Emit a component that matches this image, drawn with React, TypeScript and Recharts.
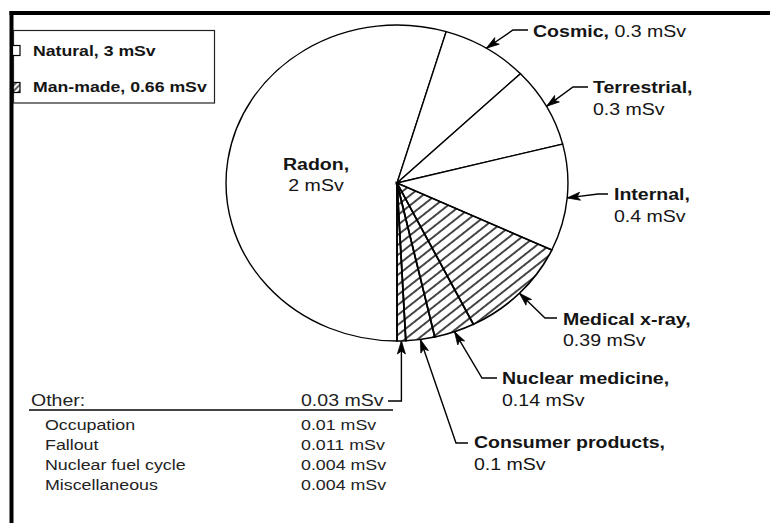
import React from 'react';
import { PieChart, Pie, Cell } from 'recharts';

// ---- data ----
const sources = ['Radon', 'Cosmic', 'Terrestrial', 'Internal', 'Medical x-ray', 'Nuclear medicine', 'Consumer products', 'Other'];
const doses = [2, 0.3, 0.3, 0.4, 0.39, 0.14, 0.1, 0.03];
const groups = ['Natural', 'Natural', 'Natural', 'Natural', 'Man-made', 'Man-made', 'Man-made', 'Man-made'];
const legendLabels = ['Natural, 3 mSv', 'Man-made, 0.66 mSv'];
const otherTitle = 'Other:';
const otherItems = ['Occupation', 'Fallout', 'Nuclear fuel cycle', 'Miscellaneous'];
const otherDoses = [0.01, 0.011, 0.004, 0.004];
const otherTotal = 0.03;

const data = sources.map((name, i) => ({ name, value: doses[i], group: groups[i] }));

// ---- layout / style ----
const W = 770;
const H = 523;
const CX = 397;
const CY = 183;
const R = 158;
const ELL = 1.082; // horizontal stretch of the pie
const FONT = '"Liberation Sans", Arial, Helvetica, sans-serif';
const SX = 1.15;
const INK = '#151515';

type Leader = { elbow: [number, number]; end: [number, number]; tx: number; ty: number[]; oneLine?: boolean };
const LEADERS: Record<string, Leader> = {
  Cosmic: { elbow: [513, 30], end: [528, 30], tx: 533, ty: [37], oneLine: true },
  Terrestrial: { elbow: [573, 87], end: [588, 87], tx: 593, ty: [93, 115] },
  Internal: { elbow: [598, 194], end: [608, 194], tx: 614, ty: [200, 222] },
  'Medical x-ray': { elbow: [545, 318], end: [557, 318], tx: 563, ty: [325, 346] },
  'Nuclear medicine': { elbow: [482, 378], end: [497, 378], tx: 502, ty: [384, 406] },
  'Consumer products': { elbow: [456, 443], end: [468, 443], tx: 474, ty: [448, 470] },
  Other: { elbow: [401, 401], end: [388, 401], tx: 0, ty: [] },
};
const RADON_POS = { x: 316, y: [170, 191] };

function T(props: {
  x: number; y: number; size: number; weight?: any; anchor?: any; fill?: string; sx?: number; children: any;
}) {
  const { x, y, size, weight = 'normal', anchor = 'start', fill = INK, sx = SX, children } = props;
  return (
    <text
      transform={`translate(${x} ${y}) scale(${sx} 1)`}
      fontSize={size}
      fontWeight={weight}
      textAnchor={anchor}
      fill={fill}
      fontFamily={FONT}
    >
      {children}
    </text>
  );
}

function ArrowHead({ tip, from }: { tip: [number, number]; from: [number, number] }) {
  const dx = from[0] - tip[0];
  const dy = from[1] - tip[1];
  const len = Math.hypot(dx, dy) || 1;
  const ux = dx / len;
  const uy = dy / len;
  const L = 13;
  const Wd = 4;
  const bx = tip[0] + ux * L;
  const by = tip[1] + uy * L;
  const px = -uy;
  const py = ux;
  const pts = `${tip[0]},${tip[1]} ${bx + px * Wd},${by + py * Wd} ${tip[0] + ux * (L - 3)},${tip[1] + uy * (L - 3)} ${bx - px * Wd},${by - py * Wd}`;
  return <polygon points={pts} fill="#000" stroke="#000" strokeWidth={0.8} />;
}

const fmt = (v: number) => `${v} mSv`;

const renderLabel = (props: any) => {
  const { cx, cy, midAngle, outerRadius, index } = props;
  const name = sources[index];
  const value = doses[index];
  if (name === 'Radon') {
    return (
      <g key={`lbl-${index}`}>
        <T x={RADON_POS.x} y={RADON_POS.y[0]} size={17} weight="bold" anchor="middle">{`${name},`}</T>
        <T x={RADON_POS.x} y={RADON_POS.y[1]} size={17} anchor="middle">{fmt(value)}</T>
      </g>
    );
  }
  const lay = LEADERS[name];
  if (!lay) return null;
  const rad = (midAngle * Math.PI) / 180;
  const tip: [number, number] = [cx + outerRadius * ELL * Math.cos(rad), cy - outerRadius * Math.sin(rad)];
  const elbow: [number, number] = name === 'Other' ? [tip[0], lay.elbow[1]] : lay.elbow;
  return (
    <g key={`lbl-${index}`}>
      <polyline
        points={`${tip[0]},${tip[1]} ${elbow[0]},${elbow[1]} ${lay.end[0]},${lay.end[1]}`}
        fill="none"
        stroke="#000"
        strokeWidth={1.4}
      />
      <ArrowHead tip={tip} from={elbow} />
      {lay.oneLine ? (
        <T x={lay.tx} y={lay.ty[0]} size={17}>
          <tspan fontWeight="bold">{`${name},`}</tspan>
          <tspan>{` ${fmt(value)}`}</tspan>
        </T>
      ) : lay.ty.length === 2 ? (
        <>
          <T x={lay.tx} y={lay.ty[0]} size={17} weight="bold">{`${name},`}</T>
          <T x={lay.tx} y={lay.ty[1]} size={17}>{fmt(value)}</T>
        </>
      ) : null}
    </g>
  );
};

export default function App() {
  return (
    <div style={{ position: 'relative', width: W, height: H, background: '#fff' }}>
      <style>{`body{margin:0;background:#fff} .recharts-sector{transform-origin:${CX}px ${CY}px;transform:scale(${ELL},1);}`}</style>
      <PieChart width={W} height={H} margin={{ top: 0, right: 0, bottom: 0, left: 0 }}>
        <defs>
          <pattern id="hatch" patternUnits="userSpaceOnUse" width="20" height="7.6" patternTransform="rotate(-40.5)">
            <line x1="0" y1="3.8" x2="20" y2="3.8" stroke="#000" strokeWidth="1.4" />
          </pattern>
        </defs>
        <Pie
          data={data}
          dataKey="value"
          nameKey="name"
          cx={CX}
          cy={CY}
          innerRadius={0}
          outerRadius={R}
          startAngle={270}
          endAngle={-90}
          stroke="#000"
          strokeWidth={1.4}
          isAnimationActive={false}
          label={renderLabel}
          labelLine={false}
        >
          {data.map((d, i) => (
            <Cell key={i} fill={d.group === 'Natural' ? '#ffffff' : 'url(#hatch)'} stroke="#000" strokeWidth={d.group === 'Natural' ? 1.3 : 1.6} />
          ))}
        </Pie>
      </PieChart>
      <svg width={W} height={H} style={{ position: 'absolute', left: 0, top: 0, pointerEvents: 'none' }}>
        <defs>
          <pattern id="hatchSmall" patternUnits="userSpaceOnUse" width="10" height="4" patternTransform="rotate(-45)">
            <line x1="0" y1="2" x2="10" y2="2" stroke="#000" strokeWidth="1.2" />
          </pattern>
        </defs>
        {/* frame */}
        <rect x={9.5} y={11} width={W - 9.5} height={4} fill="#000" />
        <rect x={9.5} y={11} width={4} height={H - 11} fill="#000" />
        {/* legend */}
        <rect x={13.5} y={30.5} width={201} height={72.5} fill="none" stroke="#222" strokeWidth={1.2} />
        <rect x={12.5} y={45.5} width={7.5} height={10} fill="#fff" stroke="#000" strokeWidth={1.2} />
        <rect x={12.5} y={82.5} width={7.5} height={10} fill="url(#hatchSmall)" stroke="#000" strokeWidth={1.2} />
        <T x={33} y={55.5} size={15.5} weight="bold" sx={1.14}>{legendLabels[0]}</T>
        <T x={33} y={92} size={15.5} weight="bold" sx={1.14}>{legendLabels[1]}</T>
        {/* other table */}
        <T x={31} y={406} size={17} fill="#222">{otherTitle}</T>
        <T x={301} y={406} size={17} fill="#222">{fmt(otherTotal)}</T>
        <line x1={29} y1={410} x2={393} y2={410} stroke="#444" strokeWidth={1.8} />
        {otherItems.map((it, i) => (
          <g key={it}>
            <T x={45} y={430 + i * 20} size={15.5} fill="#222">{it}</T>
            <T x={301} y={430 + i * 20} size={15.5} fill="#222">{fmt(otherDoses[i])}</T>
          </g>
        ))}
      </svg>
    </div>
  );
}
